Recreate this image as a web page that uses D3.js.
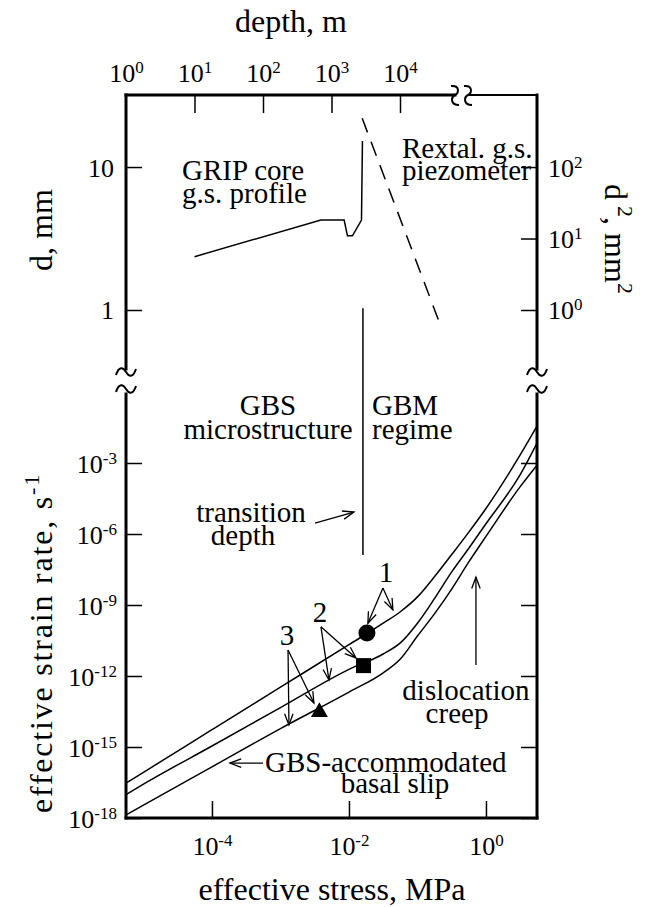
<!DOCTYPE html>
<html><head><meta charset="utf-8">
<script src="https://cdn.jsdelivr.net/npm/d3@7"></script>
<style>
body{margin:0;background:#fff}
svg{display:block}
svg text{font-family:"Liberation Serif","Times New Roman",Times,serif;fill:#000}
</style>
</head><body>
<svg id="chart" width="655" height="907"></svg>
<script>
// ---------------- data ----------------
// stress grid (MPa) at which the three flow-law curves were read
const stressGrid = [5.56e-6, 1e-5, 1e-4, 1e-3, 1e-2, 0.0316, 0.0562, 0.1, 0.178, 0.316, 0.562, 1, 3.16, 5.56];
// effective strain rate (s^-1) for grain sizes 1, 2, 3
const rateCurve1 = [3.0e-17, 8.5e-17, 5.4e-15, 3.4e-13, 2.1e-11, 1.7e-10, 5.2e-10, 2.2e-9, 1.6e-8, 1.35e-7, 1.2e-6, 1.2e-5, 2.2e-3, 3.6e-2];
const rateCurve2 = [9.8e-18, 2.7e-17, 1.1e-15, 4.6e-14, 1.9e-12, 8.5e-12, 2.5e-11, 1.7e-10, 1.9e-9, 2.5e-8, 2.5e-7, 2.7e-6, 3.2e-4, 6.9e-3];
const rateCurve3 = [1.35e-18, 3.5e-18, 1.45e-16, 6.0e-15, 2.1e-13, 1.35e-12, 5.2e-12, 4.9e-11, 4.3e-10, 4.7e-9, 6.6e-8, 7.9e-7, 1.0e-4, 8.1e-4];
// markers [stress, strain rate]
const markerCircle = [0.0183, 6.6e-11];
const markerSquare = [0.0163, 2.75e-12];
const markerTriangle = [0.0037, 3.0e-14];
// GRIP core grain-size profile
const gripDepth = [10, 700, 1530, 1710, 2020, 2740, 2830];
const gripD = [2.36, 4.26, 4.26, 3.3, 3.3, 4.26, 15.2];
// recrystallized grain-size piezometer (stress MPa vs d mm)
const piezoStress = [0.0156, 0.225];
const piezoD = [21.9, 0.745];
// transition depth line
const transitionStress = 0.016;
const transitionTopD = 1.03;
const transitionBottomRate = 1.3e-7;
// ticks
const depthTicks = [1, 10, 100, 1000, 10000];
const depthTickLabels = [["10","0"],["10","1"],["10","2"],["10","3"],["10","4"]];
const stressTicks = [1e-4, 1e-2, 1];
const stressTickLabels = [["10","-4"],["10","-2"],["10","0"]];
const rateTicks = [1e-18, 1e-15, 1e-12, 1e-9, 1e-6, 1e-3];
const rateTickLabels = [["10","-18"],["10","-15"],["10","-12"],["10","-9"],["10","-6"],["10","-3"]];
const dTicks = [1, 10];
const dTickLabels = [["1",""],["10",""]];
const d2Ticks = [1, 10, 100];
const d2TickLabels = [["10","0"],["10","1"],["10","2"]];
// annotation arrows [from, to] in [stress, rate]
const arrowsData = [
  [[3.19e-3, 2.9e-6], [0.0118, 8.5e-6]],
  [[0.0313, 5.2e-9], [0.0189, 1.7e-10]],
  [[0.0313, 5.2e-9], [0.0438, 6.2e-10]],
  [[3.9e-3, 1.2e-10], [5.1e-3, 6.8e-13]],
  [[3.9e-3, 1.2e-10], [0.01265, 5.8e-12]],
  [[1.29e-3, 1.26e-11], [1.33e-3, 8.5e-15]],
  [[1.29e-3, 1.26e-11], [3.08e-3, 7.2e-14]],
  [[0.714, 2.9e-12], [0.714, 1.5e-8]],
  [[5.56e-4, 2.1e-16], [1.83e-4, 2.1e-16]]
];

// ---------------- layout ----------------
const L = 126, R = 537, T = 95, B = 818;
const topPanelBottom = 372, botPanelTop = 392;
const SERIF = '"Liberation Serif","Times New Roman",Times,serif';
const svg = d3.select("#chart");

const xStress = d3.scaleLog().domain([5.56e-6, 5.56]).range([L, R]);
const xDepth = d3.scaleLog().domain([1, 1e6]).range([L, R]);
const yD = d3.scaleLog().domain([0.3684, 31.9]).range([topPanelBottom, T]);
const yD2 = d3.scaleLog().domain([0.3684 * 0.3684, 31.9 * 31.9]).range([topPanelBottom, T]);
const yRate = d3.scaleLog().domain([1e-18, 1]).range([B, botPanelTop]);

const TICK_FS = 26, SUP_FS = 17, ANN_FS = 29, TITLE_FS = 32;

function formatLabels(g, labels, opts) {
  g.attr("font-family", SERIF).attr("font-size", null);
  g.selectAll(".tick text").each(function(d, i) {
    const t = d3.select(this);
    t.text(null).attr("x", opts.x).attr("y", opts.y).attr("dy", 0)
      .attr("font-size", TICK_FS).attr("font-family", SERIF)
      .attr("text-anchor", opts.anchor);
    const lab = labels[i];
    t.append("tspan").text(lab[0]);
    if (lab[1]) t.append("tspan").attr("dy", -9).attr("font-size", SUP_FS).text(lab[1]);
  });
  g.select(".domain").remove();
  g.selectAll(".tick line").attr("stroke", "#000").attr("stroke-width", 1.5);
}

// bottom stress axis
const gxB = svg.append("g").attr("transform", `translate(0,${B})`)
  .call(d3.axisBottom(xStress).tickValues(stressTicks).tickSize(-17));
formatLabels(gxB, stressTickLabels, {x: 0, y: 37, anchor: "middle"});

// top depth axis
const gxT = svg.append("g").attr("transform", `translate(0,${T})`)
  .call(d3.axisTop(xDepth).tickValues(depthTicks).tickSize(-18));
formatLabels(gxT, depthTickLabels, {x: 0, y: -13, anchor: "middle"});
gxT.selectAll(".tick line").filter(d => d === 1).remove();

// left rate axis
const gyL = svg.append("g").attr("transform", `translate(${L},0)`)
  .call(d3.axisLeft(yRate).tickValues(rateTicks).tickSize(-16));
formatLabels(gyL, rateTickLabels, {x: -9, y: 9, anchor: "end"});
// right rate ticks (no labels)
const gyR = svg.append("g").attr("transform", `translate(${R},0)`)
  .call(d3.axisRight(yRate).tickValues(rateTicks).tickSize(-16).tickFormat(""));
gyR.select(".domain").remove();
gyR.selectAll(".tick line").attr("stroke-width", 1.5);

// left d axis
const gdL = svg.append("g").attr("transform", `translate(${L},0)`)
  .call(d3.axisLeft(yD).tickValues(dTicks).tickSize(-16));
formatLabels(gdL, dTickLabels, {x: -12, y: 9, anchor: "end"});
// right d^2 axis
const gdR = svg.append("g").attr("transform", `translate(${R},0)`)
  .call(d3.axisRight(yD2).tickValues(d2Ticks).tickSize(-16));
formatLabels(gdR, d2TickLabels, {x: 11, y: 9, anchor: "start"});

// ---------------- frame with breaks ----------------
const frame = svg.append("g").attr("stroke", "#000").attr("fill", "none").attr("stroke-width", 3);
frame.append("line").attr("x1", L).attr("x2", R).attr("y1", B).attr("y2", B).attr("stroke-linecap", "square");
const topBreak1 = 455, topBreak2 = 468;
frame.append("line").attr("x1", L).attr("x2", topBreak1).attr("y1", T).attr("y2", T).attr("stroke-linecap", "square");
frame.append("line").attr("x1", topBreak2).attr("x2", R).attr("y1", T).attr("y2", T).attr("stroke-width", 2);
[L, R].forEach(x => {
  frame.append("line").attr("x1", x).attr("x2", x).attr("y1", T).attr("y2", 369).attr("stroke-linecap", "square");
  frame.append("line").attr("x1", x).attr("x2", x).attr("y1", 394).attr("y2", B).attr("stroke-linecap", "square");
  [372, 389].forEach(y => {
    frame.append("path").attr("stroke-width", 2)
      .attr("d", `M${x-10},${y+3} C${x-7},${y-6} ${x-3},${y-5} ${x},${y} S${x+7},${y+6} ${x+10},${y-3}`);
  });
});
[topBreak1, topBreak2].forEach(x => {
  frame.append("path").attr("stroke-width", 2)
    .attr("d", `M${x-4},${T-9} C${x+5},${T-10} ${x+4},${T-2} ${x},${T} C${x-4},${T+2} ${x-5},${T+10} ${x+4},${T+10}`);
});

// ---------------- marks ----------------
const marks = svg.append("g").attr("fill", "none").attr("stroke", "#000");
const curveLine = d3.line().x(d => xStress(d[0])).y(d => yRate(d[1])).curve(d3.curveMonotoneX);
[rateCurve1, rateCurve2, rateCurve3].forEach(rates => {
  marks.append("path").attr("stroke-width", 1.5)
    .attr("d", curveLine(stressGrid.map((s, i) => [s, rates[i]])));
});

// GRIP profile
const gripLine = d3.line().x(d => xDepth(d[0])).y(d => yD(d[1]));
marks.append("path").attr("stroke-width", 1.5)
  .attr("d", gripLine(gripDepth.map((dp, i) => [dp, gripD[i]])));

// piezometer dashed
const piezoLine = d3.line().x(d => xStress(d[0])).y(d => yD(d[1]));
marks.append("path").attr("stroke-width", 1.5).attr("stroke-dasharray", "15,10")
  .attr("d", piezoLine(piezoStress.map((s, i) => [s, piezoD[i]])));

// transition depth line
marks.append("line").attr("stroke-width", 1.5)
  .attr("x1", xStress(transitionStress)).attr("x2", xStress(transitionStress))
  .attr("y1", yD(transitionTopD)).attr("y2", yRate(transitionBottomRate));

// markers
const sym = svg.append("g").attr("fill", "#000");
sym.append("circle").attr("cx", xStress(markerCircle[0])).attr("cy", yRate(markerCircle[1])).attr("r", 8.5);
sym.append("path").attr("transform", `translate(${xStress(markerSquare[0])},${yRate(markerSquare[1])})`)
  .attr("d", d3.symbol(d3.symbolSquare, 225)());
sym.append("path").attr("transform", `translate(${xStress(markerTriangle[0])},${yRate(markerTriangle[1])})`)
  .attr("d", d3.symbol(d3.symbolTriangle, 125)());

// arrows
function arrow(p1, p2) {
  const x1 = xStress(p1[0]), y1 = yRate(p1[1]), x2 = xStress(p2[0]), y2 = yRate(p2[1]);
  const a = Math.atan2(y2 - y1, x2 - x1), h = 12, w = 0.36;
  marks.append("line").attr("stroke-width", 1.3).attr("x1", x1).attr("y1", y1).attr("x2", x2).attr("y2", y2);
  marks.append("path").attr("stroke-width", 1.3)
    .attr("d", `M${x2 - h*Math.cos(a-w)},${y2 - h*Math.sin(a-w)} L${x2},${y2} L${x2 - h*Math.cos(a+w)},${y2 - h*Math.sin(a+w)}`);
}
arrowsData.forEach(a => arrow(a[0], a[1]));

// ---------------- text ----------------
// multi-line labels as one text element: lines = [[x, text], ...]
function block(y, lines, anchor, lh, fs) {
  const t = svg.append("text").attr("y", y).attr("text-anchor", anchor || "start")
    .attr("font-size", fs || ANN_FS).attr("font-family", SERIF);
  lines.forEach((ln, i) => {
    t.append("tspan").attr("x", ln[0]).attr("dy", i === 0 ? 0 : (lh || 23)).text(ln[1]);
  });
  return t;
}
block(180, [[182, "GRIP core"], [182, "g.s. profile"]]);
block(158, [[402, "Rextal. g.s."], [402, "piezometer"]], "start", 22);
block(415, [[268, "GBS"], [268, "microstructure"]], "middle", 24);
block(415, [[372, "GBM"], [372, "regime"]], "start", 24);
block(522, [[251, "transition"], [243, "depth"]], "middle", 23);
block(582, [[386, "1"]], "middle");
block(622, [[320, "2"]], "middle");
block(645, [[287, "3"]], "middle");
block(700, [[466, "dislocation"], [457, "creep"]], "middle", 23);
block(772, [[265, "GBS-accommodated"]], "start");
block(793, [[395, "basal slip"]], "middle");

// titles
block(32, [[291, "depth, m"]], "middle", 0, TITLE_FS);
block(900, [[332, "effective stress, MPa"]], "middle", 0, TITLE_FS);
svg.append("text").attr("transform", "translate(52,230) rotate(-90)").attr("text-anchor", "middle")
  .attr("font-size", TITLE_FS).attr("font-family", SERIF).text("d, mm");
const ylab = svg.append("text").attr("transform", "translate(52,643) rotate(-90)").attr("text-anchor", "middle")
  .attr("font-size", TITLE_FS).attr("font-family", SERIF).attr("letter-spacing", 1.8);
ylab.append("tspan").text("effective strain rate, s");
ylab.append("tspan").attr("dy", -13).attr("font-size", 22).text("-1");
const rlab = svg.append("text").attr("transform", "translate(605,239) rotate(90)").attr("text-anchor", "middle")
  .attr("font-size", TITLE_FS).attr("font-family", SERIF);
rlab.append("tspan").text("d");
rlab.append("tspan").attr("dy", -13).attr("font-size", 22).attr("dx", 6).text("2");
rlab.append("tspan").attr("dy", 13).text(", mm");
rlab.append("tspan").attr("dy", -13).attr("font-size", 22).text("2");
</script>
</body></html>
